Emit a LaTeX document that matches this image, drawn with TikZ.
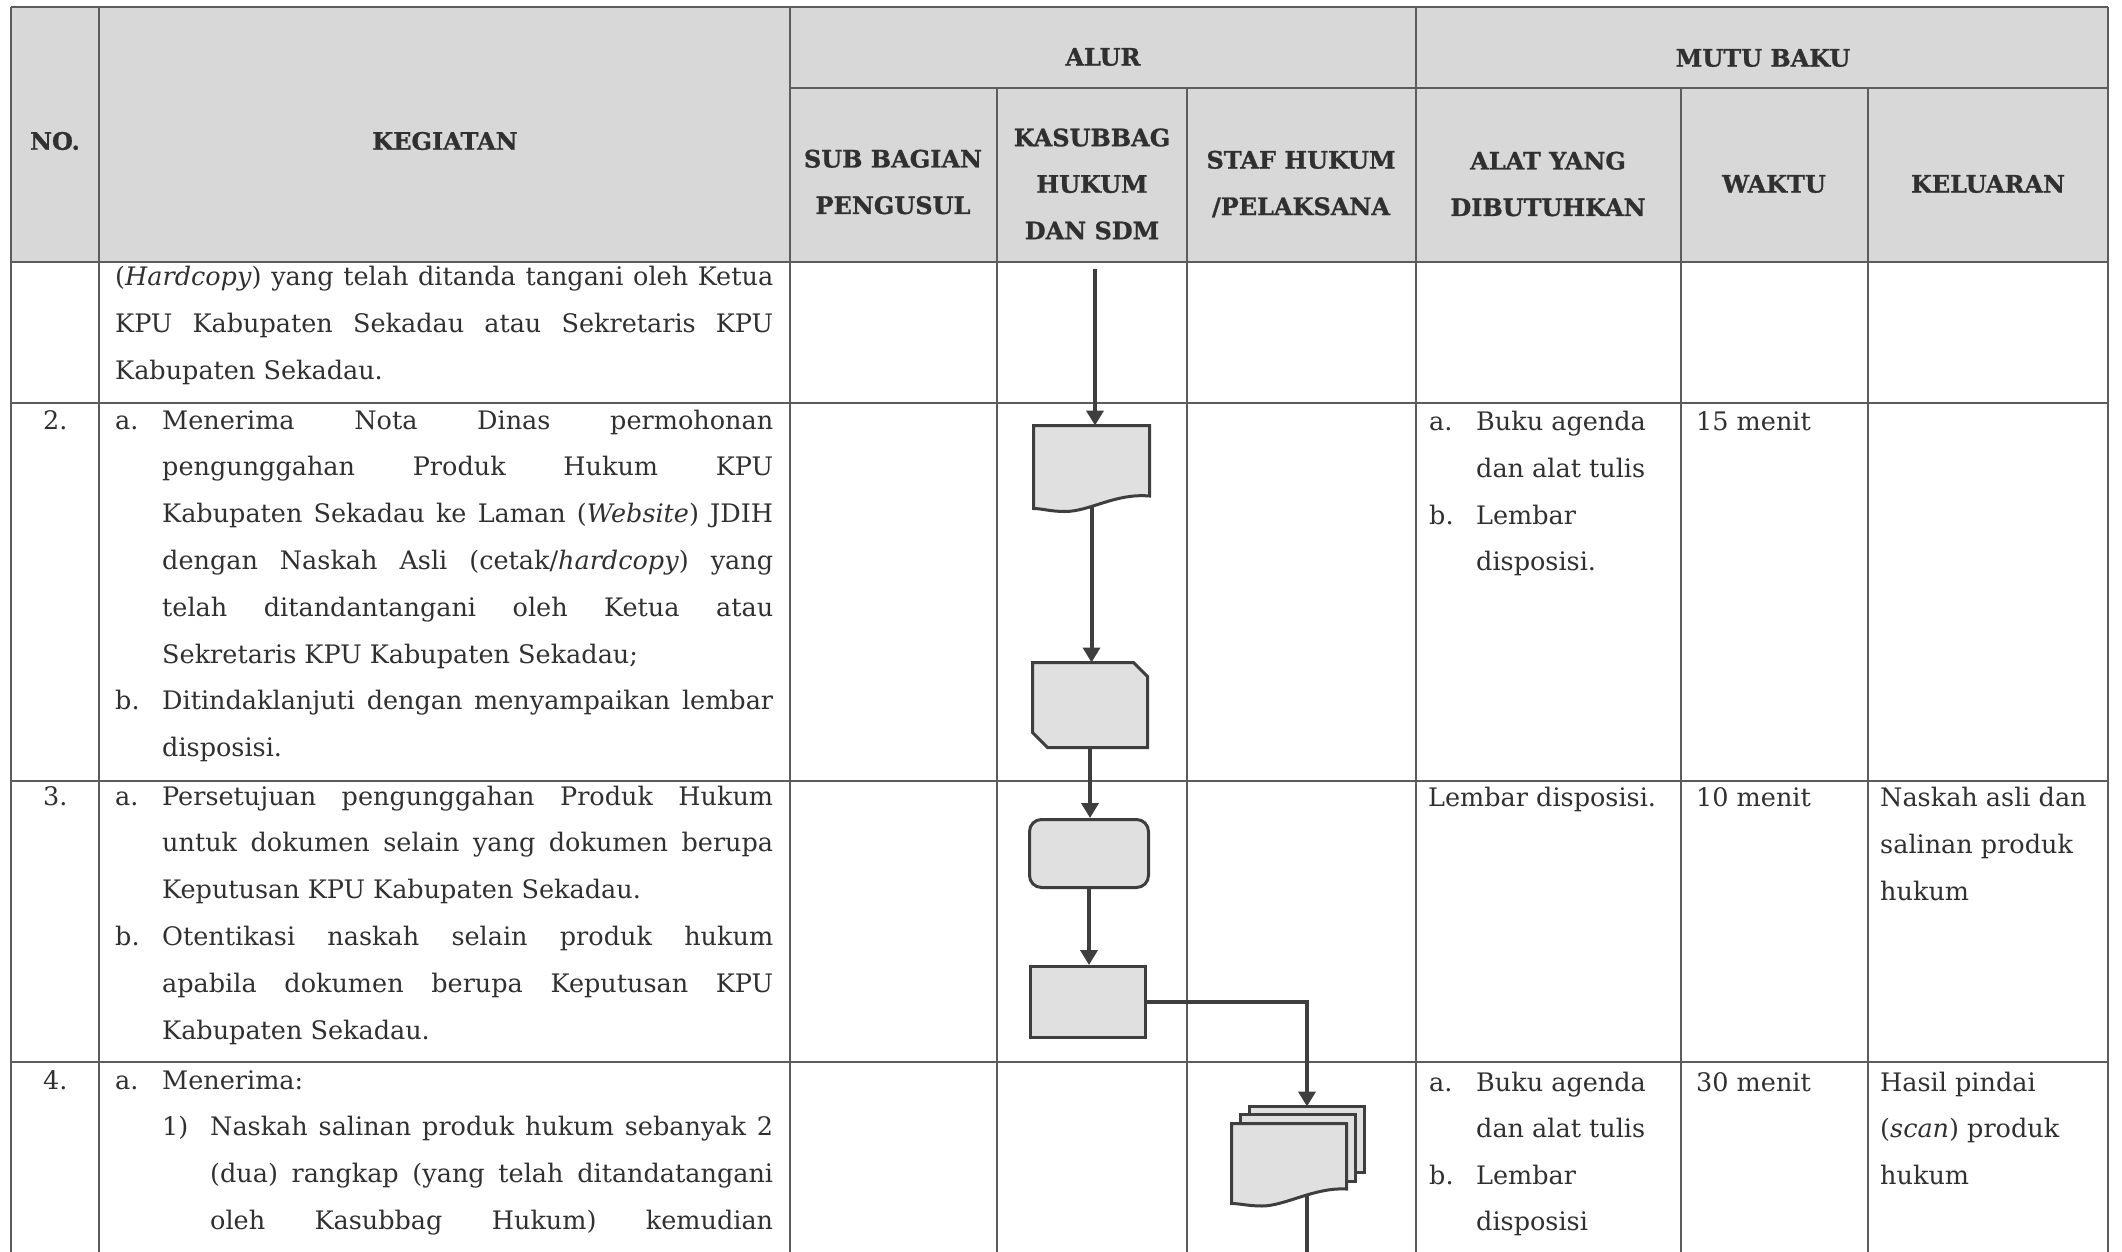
\documentclass[tikz,border=0pt]{standalone}
\usepackage{fontspec}
\setmainfont{DejaVu Serif}
\newfontfamily\hdfont[FakeBold=1]{DejaVu Serif Bold}
\usetikzlibrary{backgrounds,arrows.meta}
\definecolor{hdrfill}{HTML}{D8D8D9}
\definecolor{gridc}{HTML}{5C5C5C}
\definecolor{ink}{HTML}{303030}
\definecolor{shpfill}{HTML}{E0E0E1}
\definecolor{shpline}{HTML}{3E3E3E}
\newcommand{\JL}[2][611pt]{\makebox[#1][s]{#2}}
\newcommand{\TxtLine}[4]{\node[txt] (#1) at (#2,#3) {#4};}
\tikzset{
 txt/.style={font=\fontsize{25.5}{30}\selectfont, text=ink, inner sep=0pt, anchor=base west},
 hd/.style={font=\hdfont\fontsize{24}{46.5}\selectfont, text=ink, inner sep=0pt, align=center},
 gridline/.style={draw=gridc, line width=2pt},
 flow/.style={draw=shpline, fill=shpfill, line width=3pt, line join=miter},
 bbox/.style={draw=none, inner sep=0pt, outer sep=0pt},
 conn/.style={draw=shpline, line width=4pt},
 arr/.style={conn, -{Triangle[length=15pt,width=17pt]}},
}
\begin{document}
\begin{tikzpicture}[x=1pt,y=-1pt]
\useasboundingbox (0,0) rectangle (2122,1252);

% ---------- flow shapes ----------
\node[bbox, minimum width=116pt, minimum height=86pt] (doc) at (1091.5,468.5) {};
\node[bbox, minimum width=115pt, minimum height=85pt] (card) at (1090,705) {};
\node[flow, rounded corners=12pt, minimum width=119pt, minimum height=68pt] (rr) at (1089,853.5) {};
\node[flow, minimum width=115pt, minimum height=71pt] (rect) at (1088,1002) {};
\node[bbox, minimum width=115pt, minimum height=65.5pt] (md3) at (1307,1139.25) {};
\node[bbox, minimum width=115pt, minimum height=66.5pt] (md2) at (1298,1147.75) {};
\node[bbox, minimum width=115pt, minimum height=82.5pt] (md1) at (1289,1164.75) {};
\coordinate (s0) at (1095,269);
\coordinate (mdend) at (1307,1252);

\path[flow] (1033.5,425.5) -- (1149.5,425.5) -- (1149.5,496)
  .. controls (1115,493) and (1090,511.5) .. (1065,511.5)
  .. controls (1050,511.5) and (1042,508.5) .. (1033.5,508.5) -- cycle;
\path[flow] (1032.5,662.5) -- (1133.5,662.5) -- (1147.5,676.5) -- (1147.5,747.5)
  -- (1047.5,747.5) -- (1032.5,732.5) -- cycle;
\path[flow] (1249.5,1106.5) rectangle (1364.5,1172);
\path[flow] (1240.5,1114.5) rectangle (1355.5,1181);
\path[flow] (1231.5,1123.5) -- (1346.5,1123.5) -- (1346.5,1189)
  .. controls (1315,1187) and (1285,1206) .. (1262,1206)
  .. controls (1248,1206) and (1240,1203.5) .. (1231.5,1203.5) -- cycle;

% ---------- table + connectors (behind) ----------
\begin{scope}[on background layer]
\fill[hdrfill] (11,7) rectangle (2108,262);
\draw[gridline] (11,7) -- (2108,7);
\draw[gridline] (790,88) -- (2108,88);
\foreach \yy in {262,403,781,1062} \draw[gridline] (11,\yy) -- (2108,\yy);
\foreach \xx in {11,99,790,1416,2108} \draw[gridline] (\xx,7) -- (\xx,1252);
\foreach \xx in {997,1187,1681,1868} \draw[gridline] (\xx,88) -- (\xx,1252);

\draw[arr] (s0) -- (s0 |- doc.north);
\draw[arr] (doc.center) -- (doc.center |- card.north);
\draw[arr] (card.south) -- (card.south |- rr.north);
\draw[arr] (rr.south) -- (rr.south |- rect.north);
\draw[arr] (rect.east) -| (md3.north);
\draw[conn] (md1.center -| mdend) -- (mdend);
\end{scope}

% ---------- header ----------
\node[hd] (hNo) at (55,141) {NO.};
\node[hd] (hKeg) at (445,141) {KEGIATAN};
\node[hd] (hAlur) at (1103,57) {ALUR};
\node[hd] (hMutu) at (1763,58) {MUTU BAKU};
\node[hd] (hSub) at (893,182) {SUB BAGIAN\\PENGUSUL};
\node[hd] (hKas) at (1092,184) {KASUBBAG\\HUKUM\\DAN SDM};
\node[hd] (hStaf) at (1301,184) {STAF HUKUM\\/PELAKSANA};
\node[hd] (hAlat) at (1548,184) {ALAT YANG\\DIBUTUHKAN};
\node[hd] (hWaktu) at (1774,184) {WAKTU};
\node[hd] (hKel) at (1988,184) {KELUARAN};

% ---------- row 1 ----------
\TxtLine{r1a}{115}{285}{\JL[658pt]{(\textit{Hardcopy}) yang telah ditanda tangani oleh Ketua}}
\TxtLine{r1b}{115}{332}{\JL[658pt]{KPU Kabupaten Sekadau atau Sekretaris KPU}}
\TxtLine{r1c}{115}{379}{Kabupaten Sekadau.}

% ---------- row 2 ----------
\TxtLine{n2}{43}{429}{2.}
\TxtLine{r2la}{115}{429}{a.}
\TxtLine{r2a0}{162}{429}{\JL{Menerima Nota Dinas permohonan}}
\TxtLine{r2a1}{162}{475.8}{\JL{pengunggahan Produk Hukum KPU}}
\TxtLine{r2a2}{162}{522.6}{\JL{Kabupaten Sekadau ke Laman (\textit{Website}) JDIH}}
\TxtLine{r2a3}{162}{569.4}{\JL{dengan Naskah Asli (cetak/\textit{hardcopy}) yang}}
\TxtLine{r2a4}{162}{616.2}{\JL{telah ditandantangani oleh Ketua atau}}
\TxtLine{r2a5}{162}{663}{Sekretaris KPU Kabupaten Sekadau;}
\TxtLine{r2lb}{115}{709.8}{b.}
\TxtLine{r2b0}{162}{709.8}{\JL{Ditindaklanjuti dengan menyampaikan lembar}}
\TxtLine{r2b1}{162}{756.6}{disposisi.}

\TxtLine{r2t0}{1429}{430}{a.}
\TxtLine{r2t1}{1476}{430}{Buku agenda}
\TxtLine{r2t2}{1476}{477}{dan alat tulis}
\TxtLine{r2t3}{1429}{524}{b.}
\TxtLine{r2t4}{1476}{524}{Lembar}
\TxtLine{r2t5}{1476}{570}{disposisi.}
\TxtLine{r2w}{1696}{430}{15 menit}

% ---------- row 3 ----------
\TxtLine{n3}{43}{805}{3.}
\TxtLine{r3la}{115}{805}{a.}
\TxtLine{r3a0}{162}{805}{\JL{Persetujuan pengunggahan Produk Hukum}}
\TxtLine{r3a1}{162}{851.8}{\JL{untuk dokumen selain yang dokumen berupa}}
\TxtLine{r3a2}{162}{898.6}{Keputusan KPU Kabupaten Sekadau.}
\TxtLine{r3lb}{115}{945.4}{b.}
\TxtLine{r3b0}{162}{945.4}{\JL{Otentikasi naskah selain produk hukum}}
\TxtLine{r3b1}{162}{992.2}{\JL{apabila dokumen berupa Keputusan KPU}}
\TxtLine{r3b2}{162}{1039}{Kabupaten Sekadau.}

\TxtLine{r3t}{1428}{806}{Lembar disposisi.}
\TxtLine{r3w}{1696}{806}{10 menit}
\TxtLine{r3k0}{1880}{806}{Naskah asli dan}
\TxtLine{r3k1}{1880}{853}{salinan produk}
\TxtLine{r3k2}{1880}{900}{hukum}

% ---------- row 4 ----------
\TxtLine{n4}{43}{1089}{4.}
\TxtLine{r4la}{115}{1089}{a.}
\TxtLine{r4a0}{162}{1089}{Menerima:}
\TxtLine{r4l1}{162}{1135.8}{1)}
\TxtLine{r4a1}{210}{1135.8}{\JL[563pt]{Naskah salinan produk hukum sebanyak 2}}
\TxtLine{r4a2}{210}{1182.6}{\JL[563pt]{(dua) rangkap (yang telah ditandatangani}}
\TxtLine{r4a3}{210}{1229.4}{\JL[563pt]{oleh Kasubbag Hukum) kemudian}}

\TxtLine{r4t0}{1429}{1091}{a.}
\TxtLine{r4t1}{1476}{1091}{Buku agenda}
\TxtLine{r4t2}{1476}{1137}{dan alat tulis}
\TxtLine{r4t3}{1429}{1184}{b.}
\TxtLine{r4t4}{1476}{1184}{Lembar}
\TxtLine{r4t5}{1476}{1230}{disposisi}
\TxtLine{r4w}{1696}{1091}{30 menit}
\TxtLine{r4k0}{1880}{1091}{Hasil pindai}
\TxtLine{r4k1}{1880}{1137}{(\textit{scan}) produk}
\TxtLine{r4k2}{1880}{1184}{hukum}
\end{tikzpicture}
\end{document}
